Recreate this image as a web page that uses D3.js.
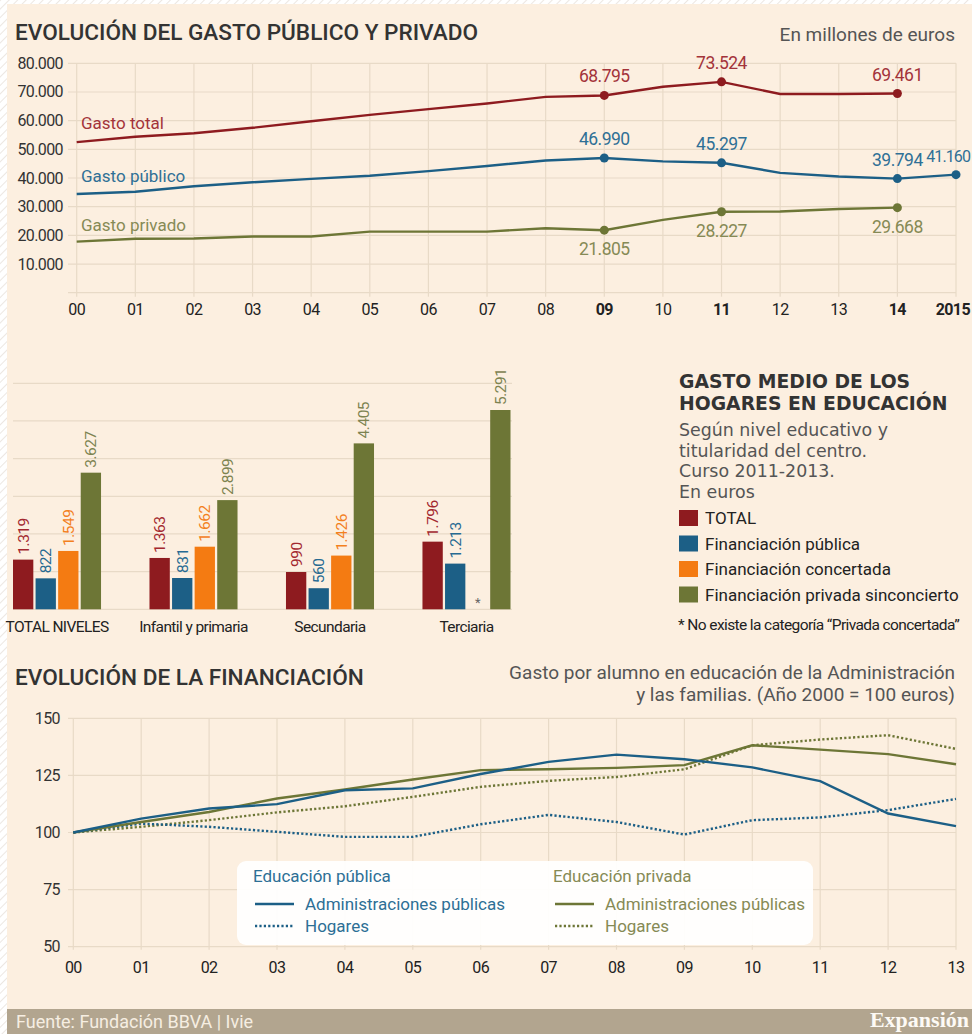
<!DOCTYPE html>
<html>
<head>
<meta charset="utf-8">
<style>
  body { margin: 0; background: #fff; }
  text { font-family: Roboto, "Noto Sans", sans-serif; }
</style>
</head>
<body>
<script src="https://d3js.org/d3.v7.min.js"></script>
<script>
// --- data: evolución del gasto (millones de euros)
var years1 = ['00','01','02','03','04','05','06','07','08','09','10','11','12','13','14','2015'];
var boldYears1 = ['09','11','14','2015'];
var gastoTotal   = [52500, 54400, 55600, 57500, 59800, 62000, 64000, 66000, 68300, 68795, 71800, 73524, 69300, 69300, 69461, null];
var gastoPublico = [34400, 35200, 37100, 38500, 39700, 40800, 42400, 44200, 46100, 46990, 45800, 45297, 41800, 40500, 39794, 41160];
var gastoPrivado = [17800, 18800, 18900, 19600, 19600, 21300, 21300, 21300, 22500, 21805, 25400, 28227, 28300, 29200, 29668, null];
var yTicks1 = [10000, 20000, 30000, 40000, 50000, 60000, 70000, 80000];
var markedYears = ['09', '11', '14', '2015'];

// --- data: gasto medio de los hogares (euros)
var niveles = ['TOTAL NIVELES', 'Infantil y primaria', 'Secundaria', 'Terciaria'];
var finKeys = ['total', 'publica', 'concertada', 'privada'];
var finLabels = ['TOTAL', 'Financiación pública', 'Financiación concertada', 'Financiación privada sinconcierto'];
var finTotal      = [1319, 1363, 990, 1796];
var finPublica    = [822, 831, 560, 1213];
var finConcertada = [1549, 1662, 1426, null];
var finPrivada    = [3627, 2899, 4405, 5291];

// --- data: evolución de la financiación (año 2000 = 100)
var years2 = ['00','01','02','03','04','05','06','07','08','09','10','11','12','13'];
var pubAdmin   = [100, 106.1, 110.5, 112.4, 118.5, 119.3, 125.6, 130.9, 134.1, 132.1, 128.5, 122.5, 108.3, 102.8];
var pubHogares = [100, 103.9, 102.5, 100.3, 98.1, 98.1, 103.6, 107.7, 104.6, 99.1, 105.4, 106.6, 109.8, 114.7];
var privAdmin  = [100, 104.6, 109, 114.9, 118.8, 123.2, 127.3, 127.7, 128.3, 129.5, 138.2, 136.3, 134.3, 129.9];
var privHogares= [100, 102.5, 105.4, 108.8, 111.5, 115.6, 120, 122.6, 124.3, 127.7, 138.2, 140.7, 142.6, 136.6];
var yTicks2 = [50, 75, 100, 125, 150];

var W = 972, H = 1034;
var red = '#8e1b1f', blue = '#1c5f86', olive = '#6d7636', orange = '#f47b12';
var redTxt = '#a3333a', blueTxt = '#2f7096', oliveTxt = '#868a55';
var grid = '#e8dac7', dark = '#333';
var wideFont = '"DejaVu Sans", Roboto, sans-serif';

var es = d3.formatLocale({ decimal: ',', thousands: '.', grouping: [3], currency: ['', '€'] });
var fmt = es.format(',d');

var svg = d3.select('body').append('svg').attr('width', W).attr('height', H);

// hatch border + paper background
var defs = svg.append('defs');
var pat = defs.append('pattern').attr('id', 'hatch').attr('width', 6).attr('height', 6)
  .attr('patternUnits', 'userSpaceOnUse').attr('patternTransform', 'rotate(45)');
pat.append('rect').attr('width', 6).attr('height', 6).attr('fill', '#fff');
pat.append('line').attr('x1', 0).attr('y1', 0).attr('x2', 0).attr('y2', 6).attr('stroke', '#ece7e2').attr('stroke-width', 2);
svg.append('rect').attr('width', W).attr('height', H).attr('fill', 'url(#hatch)');
svg.append('rect').attr('x', 7).attr('y', 4).attr('width', W - 7).attr('height', H - 4).attr('fill', '#fcefe0');

// ================= TOP CHART =================
var x1 = d3.scalePoint().domain(years1).range([76.7, 956]);
var y1 = d3.scaleLinear().domain([0, 80000]).range([292.7, 63.3]);
var topG = svg.append('g');

topG.append('text').attr('x', 15).attr('y', 40).attr('font-size', 22.6).attr('font-weight', 500)
  .attr('fill', dark).text('EVOLUCIÓN DEL GASTO PÚBLICO Y PRIVADO');
topG.append('text').attr('x', 955).attr('y', 41).attr('text-anchor', 'end').attr('font-size', 19)
  .attr('fill', '#555').text('En millones de euros');

topG.append('g').selectAll('line').data([0].concat(yTicks1)).join('line')
  .attr('x1', 68).attr('x2', 956).attr('y1', d => y1(d)).attr('y2', d => y1(d))
  .attr('stroke', grid).attr('stroke-width', 1.2);
topG.append('g').selectAll('line').data(years1).join('line')
  .attr('x1', d => x1(d)).attr('x2', d => x1(d)).attr('y1', y1(80000)).attr('y2', y1(0) + 4)
  .attr('stroke', grid).attr('stroke-width', 1.2);

topG.append('g').selectAll('text').data(yTicks1).join('text')
  .attr('x', 63).attr('y', d => y1(d) + 5.5).attr('text-anchor', 'end')
  .attr('font-size', 16).attr('letter-spacing', -0.6).attr('fill', dark).text(d => fmt(d));
topG.append('g').selectAll('text').data(years1).join('text')
  .attr('x', d => x1(d)).attr('y', 315).attr('text-anchor', d => d === '2015' ? 'end' : 'middle')
  .attr('dx', d => d === '2015' ? 14 : 0)
  .attr('font-size', 16).attr('letter-spacing', -0.6)
  .attr('font-weight', d => boldYears1.includes(d) ? 700 : 400)
  .attr('fill', '#222').text(d => d);

var series1 = [
  { name: 'Gasto total', vals: gastoTotal, color: red, txt: redTxt, ly: 129, lblDy: -13 },
  { name: 'Gasto público', vals: gastoPublico, color: blue, txt: blueTxt, ly: 182, lblDy: -13 },
  { name: 'Gasto privado', vals: gastoPrivado, color: olive, txt: oliveTxt, ly: 231, lblDy: 25 }
];
var line1 = d3.line().defined(d => d.v != null).x(d => x1(d.k)).y(d => y1(d.v));
series1.forEach(function(s) {
  var pts = years1.map((k, i) => ({ k: k, v: s.vals[i] }));
  topG.append('path').attr('d', line1(pts)).attr('fill', 'none')
    .attr('stroke', s.color).attr('stroke-width', 2.4);
  var marks = pts.filter(p => p.v != null && markedYears.includes(p.k));
  topG.append('g').selectAll('circle').data(marks).join('circle')
    .attr('cx', d => x1(d.k)).attr('cy', d => y1(d.v)).attr('r', 4.5).attr('fill', s.color);
  // last label sits against the right edge
  topG.append('g').selectAll('text').data(marks).join('text')
    .attr('x', d => d.k === '2015' ? W - 2 : x1(d.k)).attr('y', d => y1(d.v) + s.lblDy)
    .attr('text-anchor', d => d.k === '2015' ? 'end' : 'middle')
    .attr('font-size', d => d.k === '2015' ? 16 : 17.5)
    .attr('letter-spacing', d => d.k === '2015' ? -0.9 : -0.5)
    .attr('fill', s.txt).text(d => fmt(d.v));
  topG.append('text').attr('x', 81).attr('y', s.ly).attr('font-size', 17)
    .attr('fill', s.txt).text(s.name);
});

// ================= BAR CHART =================
var bars = svg.append('g');
var finData = { total: finTotal, publica: finPublica, concertada: finConcertada, privada: finPrivada };
var finColor = { total: red, publica: blue, concertada: orange, privada: olive };
var finTxt = { total: '#a3282f', publica: '#276a92', concertada: '#f3801e', privada: '#7d8350' };

var xb = d3.scaleBand().domain(niveles).range([13, 510.5]).paddingInner(0.355).paddingOuter(0);
var xk = d3.scaleBand().domain(finKeys).range([0, xb.bandwidth()]).paddingInner(0.1);
var yb = d3.scaleLinear().domain([0, 6000]).range([609.3, 383.3]);

bars.append('g').selectAll('line').data(d3.range(0, 7000, 1000)).join('line')
  .attr('x1', 13).attr('x2', 512).attr('y1', d => yb(d)).attr('y2', d => yb(d))
  .attr('stroke', grid).attr('stroke-width', 1.2);

var cells = [];
niveles.forEach(function(n, i) {
  finKeys.forEach(function(k) { cells.push({ n: n, k: k, v: finData[k][i] }); });
});
var present = cells.filter(c => c.v != null);
bars.append('g').selectAll('rect').data(present).join('rect')
  .attr('x', d => xb(d.n) + xk(d.k)).attr('width', xk.bandwidth())
  .attr('y', d => yb(d.v)).attr('height', d => yb(0) - yb(d.v))
  .attr('fill', d => finColor[d.k]);
bars.append('g').selectAll('text').data(present).join('text')
  .attr('transform', d => 'translate(' + (xb(d.n) + xk(d.k) + xk.bandwidth() / 2 + 5.5) + ',' + (yb(d.v) - 5) + ') rotate(-90)')
  .attr('font-size', 15.5).attr('letter-spacing', -0.5).attr('fill', d => finTxt[d.k]).text(d => fmt(d.v));
bars.append('g').selectAll('text').data(cells.filter(c => c.v == null)).join('text')
  .attr('x', d => xb(d.n) + xk(d.k) + xk.bandwidth() / 2).attr('y', 607).attr('text-anchor', 'middle')
  .attr('font-size', 13).attr('fill', '#666').text('*');
bars.append('g').selectAll('text').data(niveles).join('text')
  .attr('x', d => xb(d) + xb.bandwidth() / 2).attr('y', 632).attr('text-anchor', 'middle')
  .attr('font-size', 15.5).attr('letter-spacing', -0.6).attr('fill', '#222').text(d => d);

// legend block
var lg = svg.append('g');
lg.append('text').attr('x', 679).attr('y', 387.5).attr('font-size', 18.8).attr('font-weight', 700)
  .style('font-family', wideFont).attr('fill', dark)
  .selectAll('tspan').data(['GASTO MEDIO DE LOS', 'HOGARES EN EDUCACIÓN']).join('tspan')
  .attr('x', 679).attr('dy', (d, i) => i ? 22.6 : 0).text(d => d);
lg.append('text').attr('x', 679).attr('y', 436).attr('font-size', 17.4)
  .style('font-family', wideFont).attr('fill', '#555')
  .selectAll('tspan').data(['Según nivel educativo y', 'titularidad del centro.', 'Curso 2011-2013.', 'En euros']).join('tspan')
  .attr('x', 679).attr('dy', (d, i) => i ? 20.5 : 0).text(d => d);
var items = lg.selectAll('g.item').data(finKeys).join('g')
  .attr('transform', (d, i) => 'translate(679,' + (510 + i * 25.5) + ')');
items.append('rect').attr('width', 19).attr('height', 16).attr('fill', d => finColor[d]);
items.append('text').attr('x', 26).attr('y', 14).attr('font-size', 17).attr('fill', '#222')
  .text((d, i) => finLabels[i]);
lg.append('text').attr('x', 678).attr('y', 630).attr('font-size', 15.5).attr('letter-spacing', -0.6)
  .attr('fill', '#222').text('* No existe la categoría “Privada concertada”');

// ================= BOTTOM CHART =================
var x2 = d3.scalePoint().domain(years2).range([73.3, 956]);
var y2 = d3.scaleLinear().domain([50, 150]).range([946.7, 718.3]);
var bot = svg.append('g');

bot.append('text').attr('x', 15).attr('y', 685).attr('font-size', 22.6).attr('font-weight', 500)
  .attr('fill', dark).text('EVOLUCIÓN DE LA FINANCIACIÓN');
bot.append('text').attr('y', 678.5).attr('text-anchor', 'end').attr('font-size', 19).attr('fill', '#555')
  .selectAll('tspan').data(['Gasto por alumno en educación de la Administración', 'y las familias. (Año 2000 = 100 euros)']).join('tspan')
  .attr('x', 955).attr('dy', (d, i) => i ? 22.5 : 0).text(d => d);

bot.append('g').selectAll('line').data(yTicks2).join('line')
  .attr('x1', 68).attr('x2', 956).attr('y1', d => y2(d)).attr('y2', d => y2(d))
  .attr('stroke', grid).attr('stroke-width', 1.2);
bot.append('g').selectAll('line').data(years2).join('line')
  .attr('x1', d => x2(d)).attr('x2', d => x2(d)).attr('y1', y2(150)).attr('y2', y2(50) + 3)
  .attr('stroke', grid).attr('stroke-width', 1.2);
bot.append('g').selectAll('text').data(yTicks2).join('text')
  .attr('x', 60).attr('y', d => y2(d) + 5.5).attr('text-anchor', 'end')
  .attr('font-size', 16).attr('letter-spacing', -0.6).attr('fill', dark).text(d => d);
bot.append('g').selectAll('text').data(years2).join('text')
  .attr('x', d => x2(d)).attr('y', 973).attr('text-anchor', 'middle')
  .attr('font-size', 16).attr('letter-spacing', -0.6).attr('fill', '#222').text(d => d);

var series2 = [
  { vals: privHogares, color: olive, dash: '2.2,2.2' },
  { vals: pubHogares, color: blue, dash: '2.2,2.2' },
  { vals: privAdmin, color: olive, dash: null },
  { vals: pubAdmin, color: blue, dash: null }
];
var line2 = d3.line().x((d, i) => x2(years2[i])).y(d => y2(d));
series2.forEach(function(s) {
  bot.append('path').attr('d', line2(s.vals)).attr('fill', 'none')
    .attr('stroke', s.color).attr('stroke-width', 2.4)
    .attr('stroke-dasharray', s.dash);
});

// legend box
bot.append('rect').attr('x', 237).attr('y', 861).attr('width', 576).attr('height', 84)
  .attr('rx', 9).attr('fill', '#fff').attr('fill-opacity', 0.93);
var legGroups = [
  { title: 'Educación pública', color: blue, txt: '#2d6f95', x: 253 },
  { title: 'Educación privada', color: olive, txt: '#868a55', x: 553 }
];
legGroups.forEach(function(g) {
  var lgx = bot.append('g').attr('transform', 'translate(' + g.x + ',0)');
  lgx.append('text').attr('y', 882).attr('font-size', 17).attr('fill', g.txt).text(g.title);
  [{ t: 'Administraciones públicas', dash: null, y: 904 }, { t: 'Hogares', dash: '2.2,2.2', y: 926 }].forEach(function(r) {
    lgx.append('line').attr('x1', 2).attr('x2', 41).attr('y1', r.y).attr('y2', r.y)
      .attr('stroke', g.color).attr('stroke-width', 2.4).attr('stroke-dasharray', r.dash);
    lgx.append('text').attr('x', 52).attr('y', r.y + 6).attr('font-size', 17).attr('fill', g.txt).text(r.t);
  });
});

// footer
svg.append('rect').attr('x', 7).attr('y', 1009).attr('width', W - 7).attr('height', H - 1009).attr('fill', '#b2a58f');
svg.append('text').attr('x', 16).attr('y', 1028).attr('font-size', 18).attr('fill', '#f6eee2')
  .text('Fuente: Fundación BBVA | Ivie');
svg.append('text').attr('x', W - 3).attr('y', 1027).attr('text-anchor', 'end').attr('font-size', 22).attr('font-weight', 700)
  .style('font-family', '"Liberation Serif", "DejaVu Serif", serif').attr('fill', '#fdfaf5').text('Expansión');
</script>
</body>
</html>
